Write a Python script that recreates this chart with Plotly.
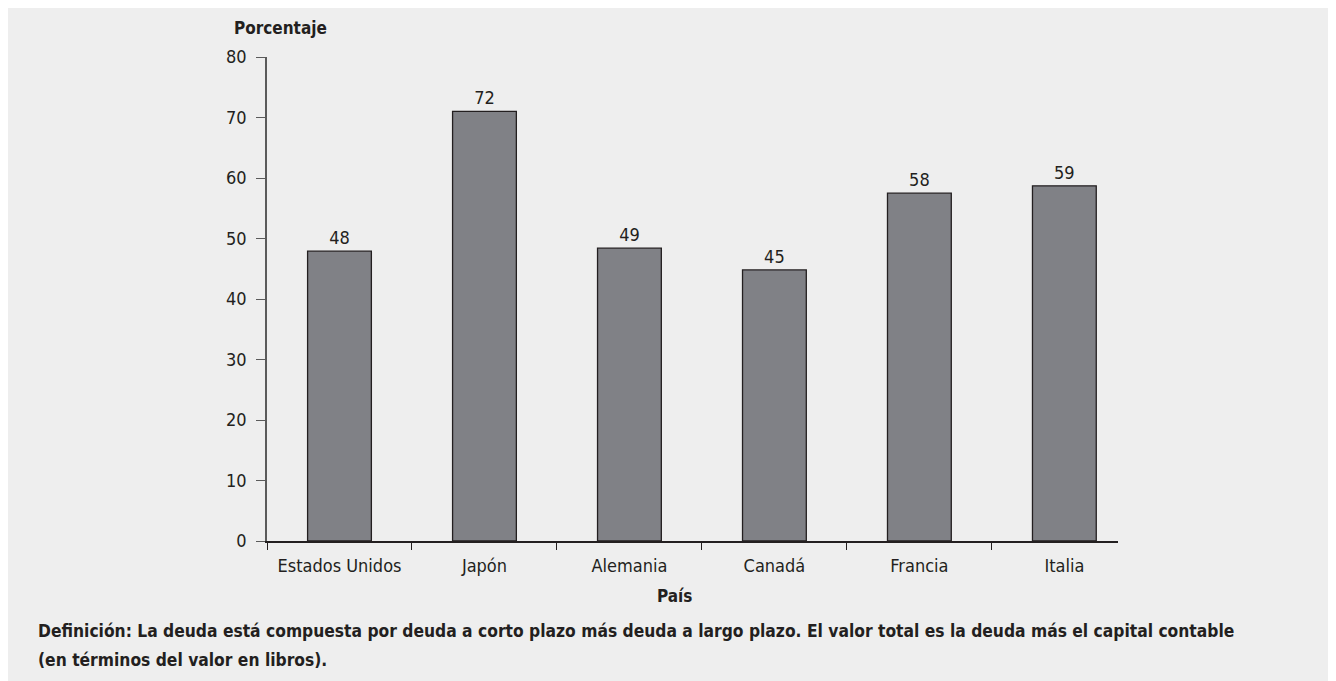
import plotly.graph_objects as go

categories = ["Estados Unidos", "Japón", "Alemania", "Canadá", "Francia", "Italia"]
values = [47.9, 71.0, 48.4, 44.8, 57.5, 58.7]
value_labels = ["48", "72", "49", "45", "58", "59"]
y_ticks = [0, 10, 20, 30, 40, 50, 60, 70, 80]

y_title = "Porcentaje"
x_title = "País"
footnote_lines = [
    "Definición: La deuda está compuesta por deuda a corto plazo más deuda a largo plazo. "
    "El valor total es la deuda más el capital contable",
    "(en términos del valor en libros).",
]

FONT = "DejaVu Sans Condensed, Liberation Sans Narrow, Arial Narrow, sans-serif"
INK = "#231f20"

fig = go.Figure(go.Bar(
    x=categories, y=values,
    text=value_labels, textposition="outside",
    textfont=dict(family=FONT, size=18, color=INK),
    marker=dict(color="#808186", line=dict(color=INK, width=1.3)),
    cliponaxis=False,
))

annotations = [
    dict(text=f"<b>{y_title}</b>", xref="paper", yref="paper",
         x=(232 - 267) / 851, y=(540.5 - 27) / 484, xanchor="left", yanchor="middle",
         showarrow=False, font=dict(family=FONT, size=17, color=INK)),
    dict(text=f"<b>{x_title}</b>", xref="paper", yref="paper",
         x=(674 - 267) / 851, y=(540.5 - 595) / 484, xanchor="center", yanchor="middle",
         showarrow=False, font=dict(family=FONT, size=17, color=INK)),
]
for i, line in enumerate(footnote_lines):
    annotations.append(dict(
        text=f"<b>{line}</b>", xref="paper", yref="paper",
        x=(36 - 267) / 851, y=(540.5 - (630 + 29 * i)) / 484,
        xanchor="left", yanchor="middle", align="left", showarrow=False,
        font=dict(family=FONT, size=17.3, color=INK)))

# plot area (figure coords): x 259..1110, y 49..533
fig.update_layout(
    width=1336, height=681,
    margin=dict(l=259, r=226, t=49, b=148),
    paper_bgcolor="#eeeeee", plot_bgcolor="#eeeeee",
    bargap=0.56, showlegend=False,
    font=dict(family=FONT, color=INK),
    xaxis=dict(
        range=[-0.5, 5.37], showgrid=False, zeroline=False,
        showline=True, linecolor=INK, linewidth=1.5,
        ticks="outside", tickson="boundaries", ticklen=7, tickcolor=INK, tickwidth=1.2,
        tickfont=dict(family=FONT, size=18, color=INK), tickangle=0,
        ticklabelstandoff=8,
    ),
    yaxis=dict(
        range=[0, 80], tickvals=y_ticks, showgrid=False, zeroline=False,
        showline=True, linecolor="#5a5a5a", linewidth=1.5,
        ticks="outside", ticklen=9, tickcolor="#5a5a5a", tickwidth=1.2,
        tickfont=dict(family=FONT, size=18, color=INK),
        ticklabelstandoff=6,
    ),
    annotations=annotations,
)

fig.write_html("out.html")
